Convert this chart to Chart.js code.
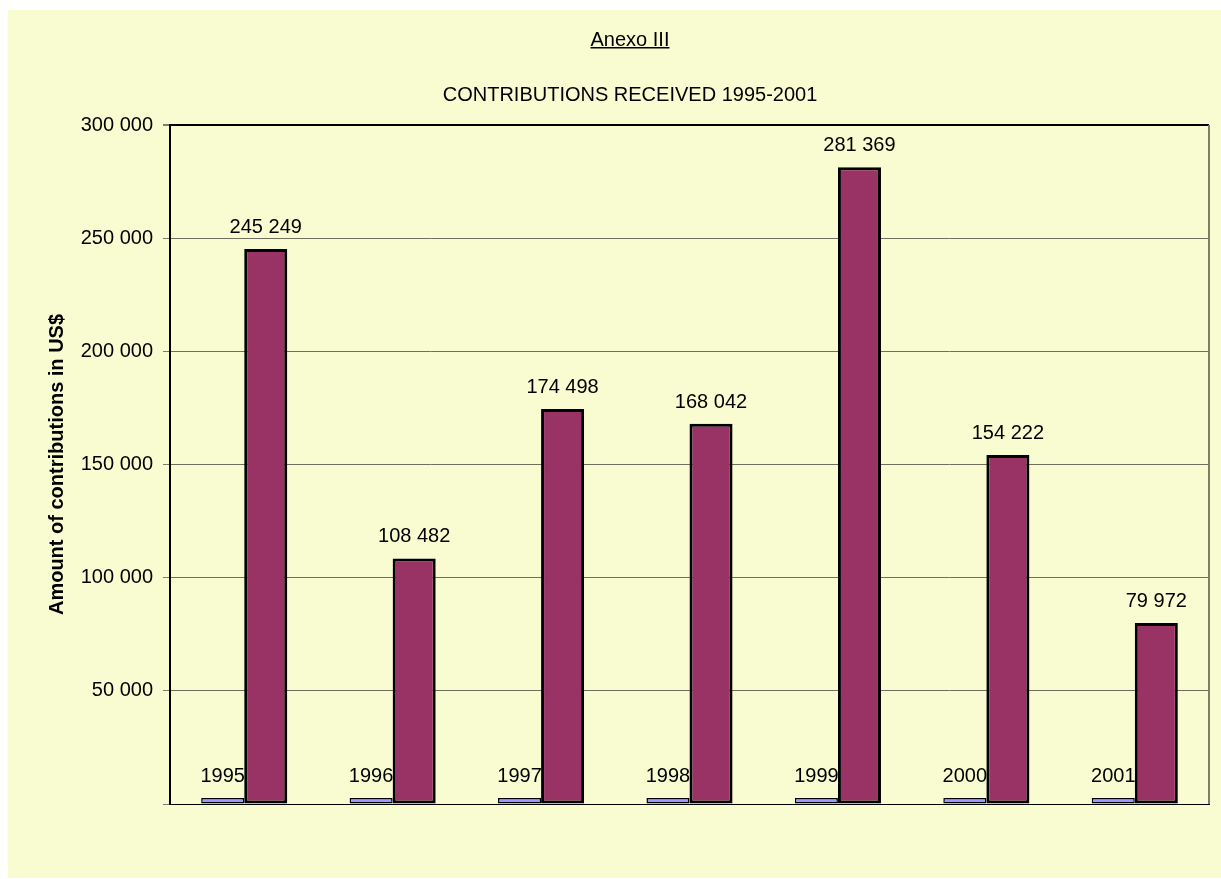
<!DOCTYPE html>
<html><head><meta charset="utf-8">
<script src="https://cdn.jsdelivr.net/npm/chart.js@4.4.0/dist/chart.umd.min.js"></script>
<style>html,body{margin:0;padding:0;background:#fff}#wrap{width:1221px;height:879px}</style>
</head><body><div id="wrap"><canvas id="c" width="1221" height="879"></canvas></div>
<script>
const categories = ['1995','1996','1997','1998','1999','2000','2001'];
const yearValues = [1995,1996,1997,1998,1999,2000,2001];
const contributions = [245249,108482,174498,168042,281369,154222,79972];
const yTicks = [0,50000,100000,150000,200000,250000,300000];
const titleText = 'Anexo III';
const subtitleText = 'CONTRIBUTIONS RECEIVED 1995-2001';
const yAxisTitle = 'Amount of contributions in US$';

const FONT = "'Liberation Sans', Arial, sans-serif";
Chart.defaults.font.family = FONT;
Chart.defaults.font.size = 20;
Chart.defaults.color = '#000';

function spaced(v){ return String(v).replace(/\B(?=(\d{3})+(?!\d))/g, ' '); }

const bgPlugin = {
  id: 'bg',
  beforeDraw(chart){
    const ctx = chart.ctx;
    ctx.save();
    ctx.fillStyle = '#ffffff';
    ctx.fillRect(0,0,chart.width,chart.height);
    ctx.fillStyle = '#F8FCD0';
    ctx.fillRect(8,10,chart.width-8,chart.height-11);
    ctx.restore();
  },
  afterDraw(chart){
    const ctx = chart.ctx, a = chart.chartArea;
    ctx.save();
    ctx.strokeStyle = '#7d7d6a';
    ctx.lineWidth = 2;
    ctx.beginPath(); ctx.moveTo(a.right, a.top); ctx.lineTo(a.right, a.bottom); ctx.stroke();
    ctx.fillStyle = '#000';
    ctx.font = '20px ' + FONT;
    ctx.textAlign = 'center';
    ctx.textBaseline = 'alphabetic';
    const cx = 630;
    ctx.fillText(titleText, cx, 46);
    const w = ctx.measureText(titleText).width;
    ctx.fillRect(cx - w/2, 47, w, 1.5);
    ctx.fillText(subtitleText, cx, 101);
    ctx.restore();
  }
};

const labelPlugin = {
  id: 'vlabels',
  afterDatasetsDraw(chart){
    const ctx = chart.ctx;
    ctx.save();
    ctx.fillStyle = '#000';
    ctx.font = '20px ' + FONT;
    ctx.textAlign = 'center';
    ctx.textBaseline = 'alphabetic';
    chart.data.datasets.forEach((ds, di) => {
      const meta = chart.getDatasetMeta(di);
      meta.data.forEach((el, i) => {
        const v = ds.data[i];
        const txt = di === 0 ? String(v) : spaced(v);
        ctx.fillText(txt, el.x, el.y - 16);
      });
    });
    ctx.restore();
  }
};

new Chart(document.getElementById('c'), {
  type: 'bar',
  data: {
    labels: categories,
    datasets: [
      { label: 'Year', data: yearValues, backgroundColor: '#9999FF', borderColor: '#000', borderWidth: 1.5, borderSkipped: false, minBarLength: 6 },
      { label: 'Contributions', data: contributions, backgroundColor: '#993366', borderColor: '#000', borderWidth: 3, borderSkipped: false }
    ]
  },
  options: {
    responsive: false,
    animation: false,
    layout: { padding: { top: 125, right: 12, bottom: 75, left: 0 } },
    plugins: { legend: { display: false }, tooltip: { enabled: false } },
    datasets: { bar: { categoryPercentage: 0.58, barPercentage: 1.0 } },
    scales: {
      x: {
        grid: { display: false },
        border: { display: true, color: '#000', width: 1 },
        ticks: { display: false },
        afterFit(s){ s.height = 0; }
      },
      y: {
        min: 0, max: 300000,
        afterBuildTicks(s){ s.ticks = yTicks.map(v => ({ value: v })); },
        ticks: {
          padding: 10,
          font: { size: 20 },
          callback: (v) => v === 0 ? '' : spaced(v)
        },
        grid: {
          drawTicks: true,
          tickLength: 7,
          tickColor: '#7d7d6a',
          color: (c) => (c.tick && c.tick.value === 300000) ? '#000' : '#6f6f5e',
          lineWidth: (c) => (c.tick && c.tick.value === 300000) ? 2 : 1
        },
        border: { display: true, color: '#000', width: 2 },
        title: {
          display: true,
          text: yAxisTitle,
          font: { size: 20, weight: 'bold' },
          padding: { top: 45, bottom: 0 }
        },
        afterFit(s){ s.width = 170; }
      }
    }
  },
  plugins: [bgPlugin, labelPlugin]
});
</script>
</body></html>
